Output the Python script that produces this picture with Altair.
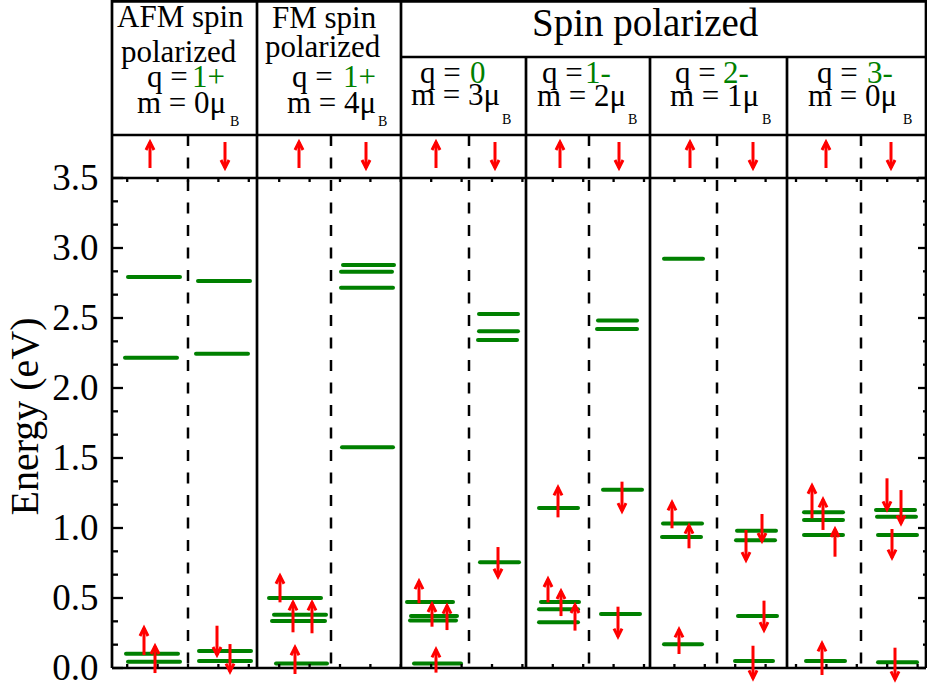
import altair as alt
import pandas as pd

GREEN = "#008000"
RED = "#ff0000"
FONT = "Liberation Serif"

# ------------------------------------------------------------------
# DATA
# ------------------------------------------------------------------
subcols = ["AFM_up", "AFM_dn", "FM_up", "FM_dn", "q0_up", "q0_dn",
           "q1_up", "q1_dn", "q2_up", "q2_dn", "q3_up", "q3_dn"]

# energy levels (eV)
AFM_up_E = [2.793, 2.216, 0.102, 0.045]
AFM_dn_E = [2.764, 2.245, 0.121, 0.050]
FM_up_E = [0.500, 0.381, 0.336, 0.033]
FM_dn_E = [2.879, 2.831, 2.716, 1.576]
q0_up_E = [0.471, 0.371, 0.340, 0.033]
q0_dn_E = [2.529, 2.405, 2.343, 0.755]
q1_up_E = [1.143, 0.471, 0.419, 0.326]
q1_dn_E = [2.483, 2.421, 1.274, 0.386]
q2_up_E = [2.924, 1.033, 0.936, 0.169]
q2_dn_E = [0.981, 0.912, 0.371, 0.050]
q3_up_E = [1.112, 1.057, 0.950, 0.050]
q3_dn_E = [1.129, 1.081, 0.950, 0.041]

# electron arrows: (tail energy, tip energy) in eV
AFM_up_A = [(0.093, 0.286), (-0.036, 0.157)]
AFM_dn_A = [(0.302, 0.093), (0.171, -0.026)]
FM_up_A = [(0.469, 0.659), (0.255, 0.469), (0.248, 0.469), (-0.043, 0.148)]
FM_dn_A = []
q0_up_A = [(0.462, 0.621), (0.295, 0.457), (0.271, 0.445), (-0.033, 0.133)]
q0_dn_A = [(0.864, 0.652)]
q1_up_A = [(1.076, 1.290), (0.469, 0.636), (0.371, 0.550), (0.267, 0.450)]
q1_dn_A = [(1.331, 1.121), (0.438, 0.224)]
q2_up_A = [(0.998, 1.183), (0.855, 1.017), (0.100, 0.276)]
q2_dn_A = [(1.100, 0.907), (0.986, 0.771), (0.481, 0.271), (0.159, -0.074)]
q3_up_A = [(1.069, 1.302), (0.986, 1.205), (0.795, 0.993), (-0.050, 0.176)]
q3_dn_A = [(1.355, 1.133), (1.271, 1.033), (0.993, 0.788), (0.145, -0.081)]

y_tick_labels = [0.0, 0.5, 1.0, 1.5, 2.0, 2.5, 3.0, 3.5]

# ------------------------------------------------------------------
# LAYOUT (image pixel positions of the drawing)
# ------------------------------------------------------------------
PX_PER_EV = 140.0
PLOT_LEFT = 112
PLOT_BOTTOM = 668
PLOT_W = 814
Y_TOP = PLOT_BOTTOM / PX_PER_EV


def ey(py):
    return (PLOT_BOTTOM - py) / PX_PER_EV


def xx(px):
    return px - PLOT_LEFT


AFM_up_X = [(128, 180), (125, 177), (126, 178), (128, 180)]
AFM_dn_X = [(198, 250), (196, 248), (199, 251), (199, 251)]
FM_up_X = [(269, 321), (274, 326), (272, 325), (276, 327)]
FM_dn_X = [(343, 394), (341, 392), (341, 393), (342, 393)]
q0_up_X = [(407, 453), (411, 457), (410, 456), (414, 461)]
q0_dn_X = [(479, 518), (479, 518), (478, 517), (480, 519)]
q1_up_X = [(539, 578), (541, 579), (539, 578), (539, 578)]
q1_dn_X = [(598, 637), (597, 637), (603, 642), (601, 640)]
q2_up_X = [(664, 703), (663, 702), (662, 701), (664, 702)]
q2_dn_X = [(737, 776), (736, 775), (738, 777), (735, 773)]
q3_up_X = [(804, 843), (804, 843), (804, 843), (806, 845)]
q3_dn_X = [(876, 915), (877, 916), (878, 917), (878, 917)]

AFM_up_AX = [144, 155]
AFM_dn_AX = [217, 230]
FM_up_AX = [280, 293, 312, 295]
FM_dn_AX = []
q0_up_AX = [419, 432, 447, 436]
q0_dn_AX = [498]
q1_up_AX = [558, 548, 561, 575]
q1_dn_AX = [622, 618]
q2_up_AX = [672, 689, 679]
q2_dn_AX = [762, 746, 764, 753]
q3_up_AX = [812, 823, 835, 822]
q3_dn_AX = [887, 901, 892, 895]

header_up_x = [150, 299, 436, 560, 690, 826]
header_dn_x = [225, 366, 495, 619, 753, 891]

g = globals()
level_rows, arrow_rows = [], []
for k in subcols:
    for e, (x1, x2) in zip(g[k + "_E"], g[k + "_X"]):
        level_rows.append({"x": xx(x1), "x2": xx(x2), "y": e})
    for (t, h), ax in zip(g[k + "_A"], g[k + "_AX"]):
        arrow_rows.append({"x": xx(ax), "y": t, "y2": h,
                           "dir": "up" if h > t else "dn"})
for ax in header_up_x:
    arrow_rows.append({"x": xx(ax), "y": ey(168), "y2": ey(142), "dir": "up"})
for ax in header_dn_x:
    arrow_rows.append({"x": xx(ax), "y": ey(142), "y2": ey(168), "dir": "dn"})

levels = pd.DataFrame(level_rows)
arrows = pd.DataFrame(arrow_rows)

# frame lines (solid)
solid_rows = []
for px, top in [(112, 0), (257, 0), (401, 0), (526, 57), (650, 57), (787, 57), (926, 0)]:
    solid_rows.append({"x": xx(px), "x2": xx(px), "y": ey(top), "y2": 0})
for py, left in [(1.3, 112), (57, 401), (135, 112), (178, 112), (668, 112)]:
    solid_rows.append({"x": xx(left), "x2": PLOT_W, "y": ey(py), "y2": ey(py)})
solid = pd.DataFrame(solid_rows)

dashed = pd.DataFrame([{"x": xx(px), "y": ey(135), "y2": 0}
                       for px in [188, 331, 469, 589, 717, 861]])

# inward axis ticks
tick_rows = []
for i in range(22):
    v = i / 6.0
    major = (i % 3 == 0)
    tick_rows.append({"x": 0, "x2": 11 if major else 6, "y": v, "y2": v})
    tick_rows.append({"x": PLOT_W - (8 if major else 3), "x2": PLOT_W, "y": v, "y2": v})
for k in range(27):
    px = 127.2 + 30.4 * k
    tick_rows.append({"x": xx(px), "x2": xx(px), "y": 3.5, "y2": 3.5 - 4 / PX_PER_EV})
    tick_rows.append({"x": xx(px), "x2": xx(px), "y": 0, "y2": 4 / PX_PER_EV})
ticks = pd.DataFrame(tick_rows)

K = "black"
texts = pd.DataFrame([
    {"t": "AFM spin", "x": xx(117), "y": ey(27), "s": 31, "c": K},
    {"t": "polarized", "x": xx(121), "y": ey(62), "s": 31, "c": K},
    {"t": "FM spin", "x": xx(272), "y": ey(28), "s": 31, "c": K},
    {"t": "polarized", "x": xx(265), "y": ey(57), "s": 31, "c": K},
    {"t": "Spin polarized", "x": xx(532), "y": ey(36), "s": 39, "c": K},
    {"t": "q =", "x": xx(147), "y": ey(87), "s": 31, "c": K},
    {"t": "1+", "x": xx(192), "y": ey(87), "s": 31, "c": GREEN},
    {"t": "q =", "x": xx(292), "y": ey(87), "s": 31, "c": K},
    {"t": "1+", "x": xx(343), "y": ey(87), "s": 31, "c": GREEN},
    {"t": "q =", "x": xx(420), "y": ey(83), "s": 31, "c": K},
    {"t": "0", "x": xx(470), "y": ey(83), "s": 31, "c": GREEN},
    {"t": "q =", "x": xx(542), "y": ey(83), "s": 31, "c": K},
    {"t": "1-", "x": xx(585), "y": ey(83), "s": 31, "c": GREEN},
    {"t": "q =", "x": xx(675), "y": ey(83), "s": 31, "c": K},
    {"t": "2-", "x": xx(723), "y": ey(83), "s": 31, "c": GREEN},
    {"t": "q =", "x": xx(817), "y": ey(83), "s": 31, "c": K},
    {"t": "3-", "x": xx(867), "y": ey(83), "s": 31, "c": GREEN},
    {"t": "m = 0μ", "x": xx(137), "y": ey(113), "s": 31, "c": K},
    {"t": "B", "x": xx(230), "y": ey(126), "s": 14, "c": K},
    {"t": "m = 4μ", "x": xx(287), "y": ey(113), "s": 31, "c": K},
    {"t": "B", "x": xx(378), "y": ey(126), "s": 14, "c": K},
    {"t": "m = 3μ", "x": xx(411), "y": ey(105), "s": 31, "c": K},
    {"t": "B", "x": xx(502), "y": ey(124), "s": 14, "c": K},
    {"t": "m = 2μ", "x": xx(537), "y": ey(106), "s": 31, "c": K},
    {"t": "B", "x": xx(628), "y": ey(124), "s": 14, "c": K},
    {"t": "m = 1μ", "x": xx(670), "y": ey(106), "s": 31, "c": K},
    {"t": "B", "x": xx(762), "y": ey(124), "s": 14, "c": K},
    {"t": "m = 0μ", "x": xx(808), "y": ey(106), "s": 31, "c": K},
    {"t": "B", "x": xx(903), "y": ey(124), "s": 14, "c": K},
])

# ------------------------------------------------------------------
xs = alt.Scale(domain=[0, PLOT_W], nice=False, zero=False)
ys = alt.Scale(domain=[0, Y_TOP], nice=False, zero=False)

yaxis = alt.Axis(values=y_tick_labels, format=".1f", labelFont=FONT,
                 labelFontSize=37, labelColor="black", labelPadding=14,
                 labelFlush=False, labelOverlap=False,
                 ticks=False, tickSize=0, domain=False, grid=False,
                 title="Energy (eV)", titleFont=FONT, titleFontSize=40,
                 titleFontWeight="normal", titleColor="black", titleAngle=270,
                 titleX=-75, titleY=416, titleAlign="center",
                 titleBaseline="alphabetic")


def X(f="x"):
    return alt.X(f"{f}:Q", scale=xs, axis=None)


def Y(f="y"):
    return alt.Y(f"{f}:Q", scale=ys, axis=yaxis)


level_layer = alt.Chart(levels).mark_rule(
    color=GREEN, strokeWidth=4, strokeCap="round").encode(
    x=X(), x2="x2:Q", y=Y())

shaft_layer = alt.Chart(arrows).mark_rule(color=RED, strokeWidth=3).encode(
    x=X(), y=Y(), y2="y2:Q")

up_head = alt.Chart(arrows).transform_filter(alt.datum.dir == "up").mark_point(
    shape="M-1,2L0,0L1,2", size=64, filled=False, stroke=RED, strokeWidth=3,
    opacity=1).encode(x=X(), y=Y("y2"))
dn_head = alt.Chart(arrows).transform_filter(alt.datum.dir == "dn").mark_point(
    shape="M-1,-2L0,0L1,-2", size=64, filled=False, stroke=RED, strokeWidth=3,
    opacity=1).encode(x=X(), y=Y("y2"))

solid_layer = alt.Chart(solid).mark_rule(color="black", strokeWidth=2.7).encode(
    x=X(), x2="x2:Q", y=Y(), y2="y2:Q")
dashed_layer = alt.Chart(dashed).mark_rule(
    color="black", strokeWidth=2.5, strokeDash=[11, 11.5]).encode(
    x=X(), y=Y(), y2="y2:Q")
tick_layer = alt.Chart(ticks).mark_rule(color="black", strokeWidth=2.3).encode(
    x=X(), x2="x2:Q", y=Y(), y2="y2:Q")

text_layer = alt.Chart(texts).mark_text(
    align="left", baseline="alphabetic", font=FONT).encode(
    x=X(), y=Y(), text="t:N",
    color=alt.Color("c:N", scale=None),
    size=alt.Size("s:Q", scale=None))

chart = alt.layer(
    level_layer, dashed_layer, solid_layer, tick_layer,
    shaft_layer, up_head, dn_head, text_layer
).properties(
    width=PLOT_W, height=PLOT_BOTTOM,
    padding={"left": PLOT_LEFT, "top": 0, "right": 1, "bottom": 15},
    autosize=alt.AutoSizeParams(type="none"),
    background="white",
).configure_view(stroke=None)

chart.save("out.html", embed_options={"renderer": "svg", "actions": False})
